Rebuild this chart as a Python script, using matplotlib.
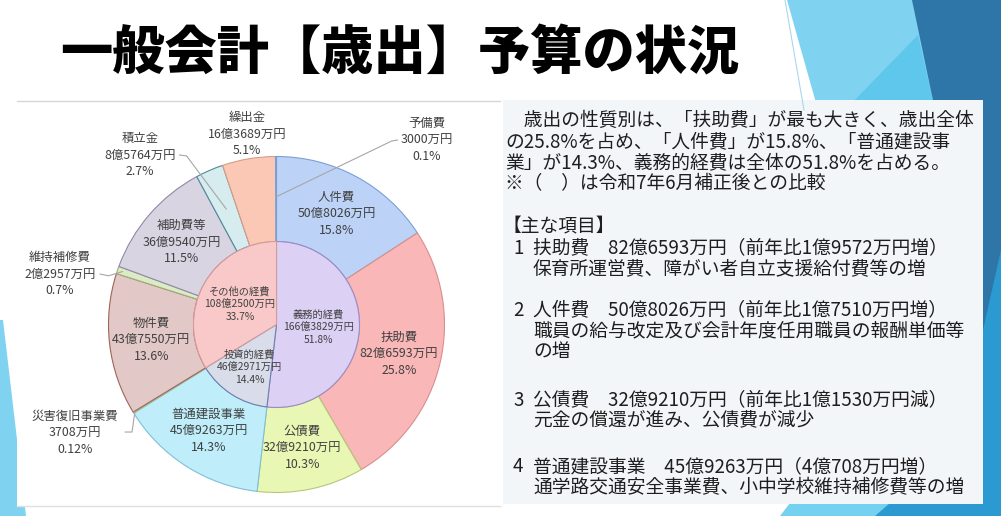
import matplotlib

matplotlib.use("Agg")
import matplotlib.pyplot as plt
import numpy as np
from matplotlib.patches import Polygon, Rectangle

plt.rcParams["font.family"] = ["Noto Sans CJK JP", "DejaVu Sans"]

# 外側：性質別（単位：万円）
outer_names = ["人件費", "扶助費", "公債費", "普通建設事業", "災害復旧事業費",
               "物件費", "維持補修費", "補助費等", "積立金", "繰出金", "予備費"]
outer_values = [508026, 826593, 329210, 459263, 3708,
                437550, 22957, 369540, 85764, 163689, 3000]
outer_pcts = ["15.8%", "25.8%", "10.3%", "14.3%", "0.12%",
              "13.6%", "0.7%", "11.5%", "2.7%", "5.1%", "0.1%"]

# 内側：経費区分（単位：万円）
inner_names = ["義務的経費", "投資的経費", "その他の経費"]
inner_values = [1663829, 462971, 1082500]
inner_pcts = ["51.8%", "14.4%", "33.7%"]

title = "一般会計【歳出】予算の状況"
summary_lines = [
    "\u3000歳出の性質別は、「扶助費」が最も大きく、歳出全体",
    "の25.8%を占め、「人件費」が15.8%、「普通建設事",
    "業」が14.3%、義務的経費は全体の51.8%を占める。",
    "※（\u3000）は令和7年6月補正後との比較",
]
items_heading = "【主な項目】"
item_numbers = ["1", "2", "3", "4"]
item_heads = [
    "扶助費\u300082億6593万円（前年比1億9572万円増）",
    "人件費\u300050億8026万円（前年比1億7510万円増）",
    "公債費\u300032億9210万円（前年比1億1530万円減）",
    "普通建設事業\u300045億9263万円（4億708万円増）",
]
item_notes = [
    ["保育所運営費、障がい者自立支援給付費等の増"],
    ["職員の給与改定及び会計年度任用職員の報酬単価等", "の増"],
    ["元金の償還が進み、公債費が減少"],
    ["通学路交通安全事業費、小中学校維持補修費等の増"],
]

# スタイル
outer_colors = ["#bcd3f7", "#f9b7b7", "#e9f7b5", "#bfeefa", "#e4f0dc",
                "#e2c8c6", "#dcebc6", "#d8d4e2", "#d6ecee", "#fcc8b6", "#c8d8f0"]
outer_edges = ["#7a9fd6", "#d98e8e", "#b4c77a", "#7fbfd6", "#9fbf9a",
               "#a06458", "#9bb27a", "#8e8aa8", "#4e8c9a", "#d89c88", "#7a9fd6"]
inner_colors = ["#dcd0f4", "#d8dde9", "#f9c9c9"]
inner_edges = ["#9a8cc6", "#6f7fb0", "#d69b9b"]

W, H = 1001, 516
CX, CY, R = 276.5, 324.5, 168.0
R_IN = 83.0 / R

# 外に出すラベル（円の半径単位）と引き出し線
outside_pos = {
    "繰出金": (-0.176, 1.134),
    "積立金": (-0.8125, 1.009),
    "予備費": (0.896, 1.098),
    "維持補修費": (-1.289, 0.30),
    "災害復旧事業費": (-1.199, -0.646),
}
leaders = {
    "積立金": ((-0.577, 1.009), (-0.535, 1.003), 0.75),
    "予備費": ((0.72, 1.098), (0.685, 1.092), 0.76),
    "維持補修費": ((-1.05, 0.30), (-1.0, 0.29), 0.97),
    "災害復旧事業費": ((-0.90, -0.64), (-0.86, -0.64), 0.99),
}


def yen(v):
    oku, man = divmod(v, 10000)
    return f"{oku}億{man}万円" if oku else f"{man}万円"


fig = plt.figure(figsize=(W / 100, H / 100), dpi=100)
bg = fig.add_axes([0, 0, 1, 1])
bg.set_xlim(0, W)
bg.set_ylim(H, 0)
bg.axis("off")

# 背景の飾り
bg.add_patch(Polygon([(787, 0), (915, 0), (935, 110), (818, 110)], color="#7fd3f0", lw=0))
bg.add_patch(Polygon([(845, 110), (935, 110), (918, 35)], color="#5fc6ec", lw=0))
bg.add_patch(Polygon([(912, 0), (1001, 0), (1001, 290), (983, 335), (935, 110)], color="#2e76a7", lw=0))
bg.add_patch(Polygon([(1001, 250), (1001, 516), (872, 516), (983, 330)], color="#2a9ad1", lw=0))
bg.add_patch(Polygon([(780, 516), (875, 516), (905, 490), (800, 490)], color="#75d1f0", lw=0))
bg.add_patch(Polygon([(0, 320), (3, 320), (26, 516), (0, 516)], color="#7fd3f0", lw=0))
bg.plot([785, 804], [0, 110], color="#a8d8ea", lw=0.8)

# パネル
bg.add_patch(Rectangle((17, 101), 483, 405, facecolor="white", edgecolor="none"))
bg.plot([17, 500], [101, 101], color="#d6d6d6", lw=1)
bg.plot([17, 500], [506, 506], color="#e0e0e0", lw=1)
bg.add_patch(Rectangle((503, 100), 480, 404, facecolor="#f3f6f9", edgecolor="none"))

bg.text(60, 54, title, fontsize=37.6, fontweight="black", color="black", ha="left", va="center")

# 右側の説明文
text_kw = dict(fontsize=13.5, color="#1e1e1e", ha="left", va="center")
for y, line in zip([120, 142, 163, 184], summary_lines):
    bg.text(505, y, line, **text_kw)
bg.text(503, 227, items_heading, **text_kw)
item_y = [248, 310, 400, 467]
for y0, num, head, notes in zip(item_y, item_numbers, item_heads, item_notes):
    bg.text(513, y0, num, **text_kw)
    bg.text(533, y0, head, **text_kw)
    for k, note in enumerate(notes):
        bg.text(533, y0 + 21 * (k + 1), note, **text_kw)

# 円グラフ
ax = fig.add_axes([(CX - R) / W, (H - CY - R) / H, 2 * R / W, 2 * R / H])
outer_wedges, _ = ax.pie(outer_values, radius=1, startangle=90, counterclock=False,
                         colors=outer_colors, wedgeprops=dict(width=1 - R_IN, linewidth=0.8))
inner_wedges, _ = ax.pie(inner_values, radius=R_IN, startangle=90, counterclock=False,
                         colors=inner_colors, wedgeprops=dict(linewidth=0.8))
for w, ec in zip(outer_wedges, outer_edges):
    w.set_edgecolor(ec)
for w, ec in zip(inner_wedges, inner_edges):
    w.set_edgecolor(ec)
ax.set_xlim(-1, 1)
ax.set_ylim(-1, 1)
ax.set_aspect("equal")
ax.axis("off")

label_kw = dict(ha="center", va="center", color="#404040")
for w, name, v, p in zip(outer_wedges, outer_names, outer_values, outer_pcts):
    mid = np.deg2rad((w.theta1 + w.theta2) / 2)
    if name in outside_pos:
        x, y = outside_pos[name]
    else:
        x, y = 0.75 * np.cos(mid), 0.75 * np.sin(mid)
    ax.text(x, y, f"{name}\n{yen(v)}\n{p}", fontsize=8.9, linespacing=1.35, **label_kw)
    if name in leaders:
        p0, p1, r_end = leaders[name]
        ax.plot([p0[0], p1[0], r_end * np.cos(mid)], [p0[1], p1[1], r_end * np.sin(mid)],
                color="#a6a6a6", lw=0.8, clip_on=False)

inner_r = [0.25, 0.30, 0.25]
for w, name, v, p, r in zip(inner_wedges, inner_names, inner_values, inner_pcts, inner_r):
    mid = np.deg2rad((w.theta1 + w.theta2) / 2)
    ax.text(r * np.cos(mid), r * np.sin(mid), f"{name}\n{yen(v)}\n{p}",
            fontsize=7.4, linespacing=1.35, **label_kw)

fig.savefig("out.png", dpi=100)
